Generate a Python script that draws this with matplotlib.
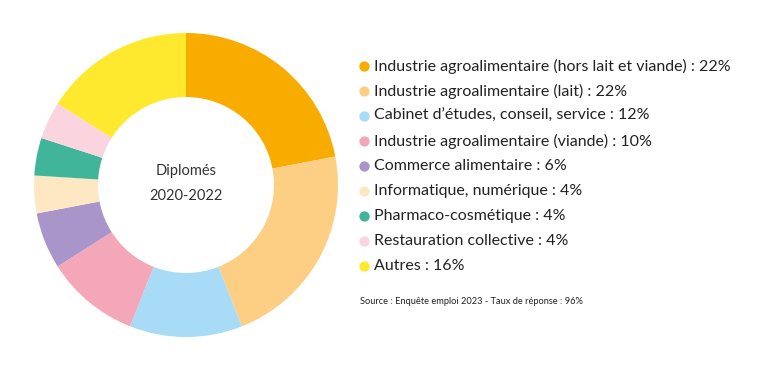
import matplotlib.pyplot as plt

plt.rcParams['font.family'] = ['Lato', 'DejaVu Sans']

categories = [
    "Industrie agroalimentaire (hors lait et viande)",
    "Industrie agroalimentaire (lait)",
    "Cabinet d\u2019études, conseil, service",
    "Industrie agroalimentaire (viande)",
    "Commerce alimentaire",
    "Informatique, numérique",
    "Pharmaco-cosmétique",
    "Restauration collective",
    "Autres",
]
shares = [22, 22, 12, 10, 6, 4, 4, 4, 16]
colors = ["#F8AC00", "#FDCF84", "#A8DCF6", "#F4A7B8", "#A995C9",
          "#FEE8C3", "#41B59A", "#FAD5DF", "#FFE92E"]

fig = plt.figure(figsize=(7.6, 3.7), dpi=100)

# donut
ax = fig.add_axes([34 / 760, 33 / 370, 304 / 760, 304 / 370])
ax.pie(shares, colors=colors, startangle=90, counterclock=False,
       radius=1, wedgeprops=dict(width=64 / 152, linewidth=0))
ax.set_xlim(-1, 1)
ax.set_ylim(-1, 1)
ax.set_aspect('equal')
ax.axis('off')
ax.text(0, 0.09, "Diplomés", ha='center', va='center', fontsize=10.5, color='#333333')
ax.text(0, -0.075, "2020-2022", ha='center', va='center', fontsize=10.5, color='#333333')

# legend
leg = fig.add_axes([0, 0, 1, 1])
leg.set_xlim(0, 760)
leg.set_ylim(370, 0)
leg.axis('off')
for i, (cat, val, col) in enumerate(zip(categories, shares, colors)):
    y = 66 + 25 * i
    leg.scatter(364, y, s=55, color=col, linewidths=0)
    leg.text(374, y, f"{cat} : {val}%", va='center', ha='left',
             fontsize=11.5, color='#222222')

leg.text(360, 302, "Source : Enquête emploi 2023 - Taux de réponse : 96%",
         va='center', ha='left', fontsize=6.7, color='#222222')

fig.savefig("out.png", dpi=100)
